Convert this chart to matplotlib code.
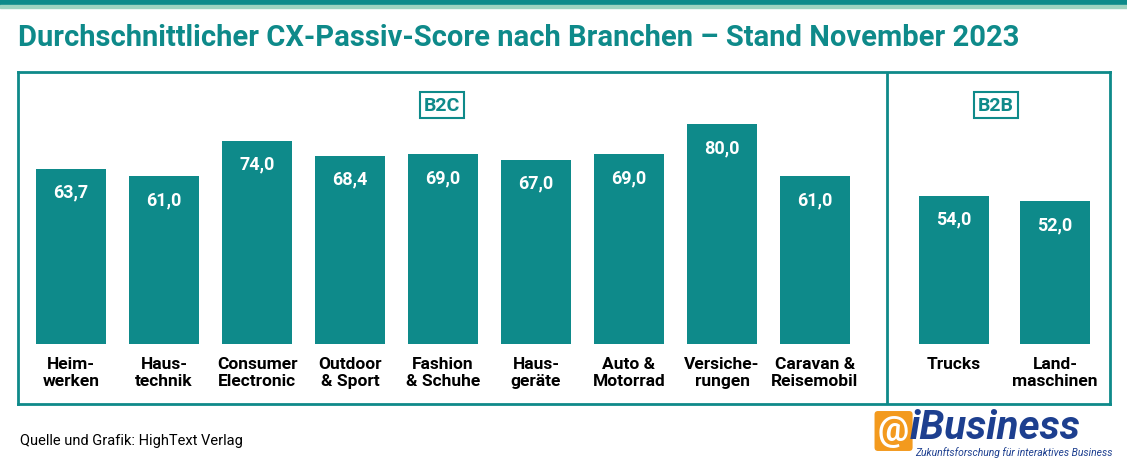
import matplotlib.pyplot as plt
from matplotlib.patches import Rectangle

# data
b2c_labels = ["Heim-\nwerken", "Haus-\ntechnik", "Consumer\nElectronic", "Outdoor\n& Sport",
              "Fashion\n& Schuhe", "Haus-\ngeräte", "Auto &\nMotorrad", "Versiche-\nrungen",
              "Caravan &\nReisemobil"]
b2c_values = [63.7, 61.0, 74.0, 68.4, 69.0, 67.0, 69.0, 80.0, 61.0]
b2b_labels = ["Trucks", "Land-\nmaschinen"]
b2b_values = [54.0, 52.0]

TEAL = "#0e8a8a"
W, H = 1127, 464
FONT = "Roboto"

fig = plt.figure(figsize=(W / 100, H / 100), dpi=100)
fig.patch.set_facecolor("white")

# top stripe
fig.patches.append(Rectangle((0, 1 - 6 / H), 1, 6 / H, transform=fig.transFigure, color=TEAL))
fig.patches.append(Rectangle((0, 1 - 9 / H), 1, 3 / H, transform=fig.transFigure, color="#9fd3c0"))

fig.text(18 / W, 1 - 38 / H, "Durchschnittlicher CX-Passiv-Score nach Branchen – Stand November 2023",
         color=TEAL, fontsize=21, fontweight="bold", family=FONT, va="center")

# axes in pixel units covering the box
box_l, box_r, box_t, box_b = 18, 1110, 73, 405
ax = fig.add_axes([box_l / W, 1 - box_b / H, (box_r - box_l) / W, (box_b - box_t) / H])
ax.set_xlim(box_l, box_r)
base_y = 345
ppu = 2.75
ax.set_ylim(-(box_b - base_y) / ppu, (base_y - box_t) / ppu)
ax.set_xticks([])
ax.set_yticks([])
for s in ax.spines.values():
    s.set_color(TEAL)
    s.set_linewidth(2)
ax.axvline(887, color=TEAL, lw=2)

b2c_x = [71 + 93 * i for i in range(len(b2c_values))]
b2b_x = [954 + 101 * i for i in range(len(b2b_values))]
xs = b2c_x + b2b_x
vals = b2c_values + b2b_values
labels = b2c_labels + b2b_labels

ax.bar(xs, vals, width=70, color=TEAL, edgecolor="none")
for x, v, lab in zip(xs, vals, labels):
    ax.text(x, v - 23 / ppu, f"{v:.1f}".replace(".", ","), ha="center", va="center",
            color="white", fontsize=13, fontweight="bold", family=FONT)
    ax.text(x, -12 / ppu, lab, ha="center", va="top", fontsize=12.5, fontweight="bold",
            family=FONT, linespacing=1.2)

for x, txt in [(442, "B2C"), (996, "B2B")]:
    ax.text(x, (base_y - 106) / ppu, txt, ha="center", va="center", color=TEAL, fontsize=14,
            fontweight="bold", family=FONT,
            bbox=dict(boxstyle="square,pad=0.2", fc="white", ec=TEAL, lw=1.5))

fig.text(20 / W, 1 - 441 / H, "Quelle und Grafik: HighText Verlag", fontsize=10.5, family=FONT, va="center")

# logo
fig.text(878 / W, 1 - 432 / H, "@", fontsize=25, fontweight="bold", color="white", family=FONT,
         va="center", bbox=dict(boxstyle="round,pad=0.1", fc="#f39a1e", ec="none"))
fig.text(910 / W, 1 - 428 / H, "iBusiness", fontsize=29, fontweight="bold", style="italic",
         color="#1d3f8f", family=FONT, va="center")
fig.text(915 / W, 1 - 453 / H, "Zukunftsforschung für interaktives Business", fontsize=7.5,
         style="italic", color="#1d3f8f", family=FONT, va="center")

fig.savefig("out.png", dpi=100)
